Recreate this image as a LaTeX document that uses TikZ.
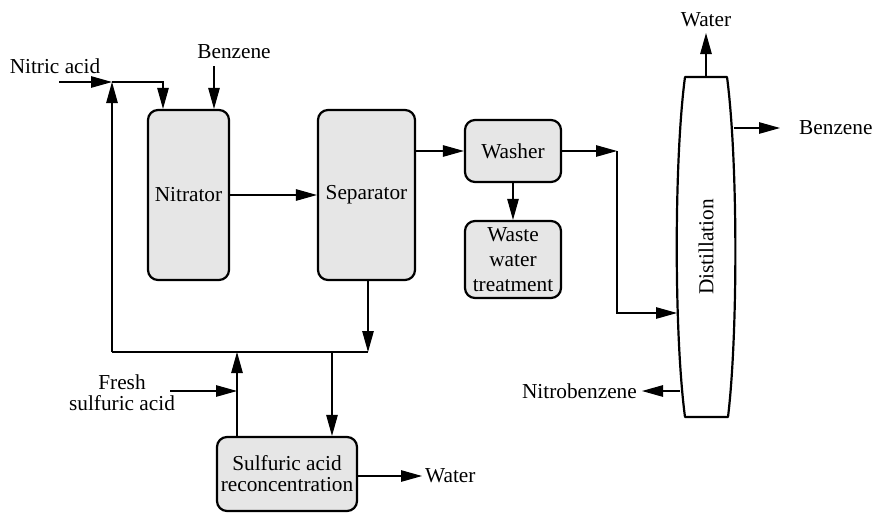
\documentclass[tikz,border=0pt]{standalone}
\usepackage{fontspec}
\setmainfont{Liberation Serif}
\usetikzlibrary{arrows.meta}
\definecolor{boxgray}{RGB}{230,230,230}
\begin{document}
\begin{tikzpicture}[x=1pt,y=-1pt,
  every node/.style={font=\fontsize{21.3}{21}\selectfont, inner sep=0pt},
  unit/.style={draw, line width=2.2pt, fill=boxgray, rounded corners=10pt, align=center},
  flow/.style={line width=1.1pt, -{Triangle[length=21pt,width=11.5pt]}},
  pipe/.style={line width=1.1pt},
  lbl/.style={align=center}]
\useasboundingbox (0,0) rectangle (875,512);

% units
\node[unit, minimum width=81pt, minimum height=170pt] (nitrator) at (188.5,195) {Nitrator};
\node[unit, minimum width=97pt, minimum height=170pt] (separator) at (366.5,195) {Separator};
\node[unit, minimum width=96pt, minimum height=62pt] (washer) at (513,151) {Washer};
\node[unit, minimum width=96pt, minimum height=77pt, font=\fontsize{21.3}{25}\selectfont] (waste) at (513,259.5) {Waste\\water\\treatment};
\node[unit, minimum width=140pt, minimum height=74pt] (sulf) at (287,474) {Sulfuric acid\\reconcentration};

% distillation column
\draw[line width=2.2pt, fill=white, line join=round]
  (685,77) -- (727,77) .. controls (738,160) and (738,334) .. (728,417)
  -- (685,417) .. controls (674,334) and (674,160) .. (685,77) -- cycle;
\node[rotate=90] (dist) at (706,247) {Distillation};

% labels
\node[lbl] (lnitric) at (55,66) {Nitric acid};
\node[lbl] (lbenz1) at (234,52) {Benzene};
\node[lbl] (lfresh) at (122,393) {Fresh\\sulfuric acid};
\node[lbl, anchor=west] (lwater1) at (425,476) {Water};
\node[lbl] (lwater2) at (706,20) {Water};
\node[lbl, anchor=west] (lbenz2) at (799,128) {Benzene};
\node[lbl, anchor=east] (lnitro) at (637,391) {Nitrobenzene};

% coordinates
\coordinate (na) at (59,82);
\coordinate (j1) at (112,82);
\coordinate (bz) at (214,66);
\coordinate (j2) at (112,352);
\coordinate (j3) at (368,352);
\coordinate (j4) at (237,352);
\coordinate (j5) at (332,352);
\coordinate (fs) at (170,391);
\coordinate (w1) at (422,476);
\coordinate (j6) at (617,151);
\coordinate (j7) at (617,313);
\coordinate (colin) at (677,313);
\coordinate (coltop) at (706,77);
\coordinate (w2) at (706,33);
\coordinate (colr) at (734,128);
\coordinate (b2) at (780,128);
\coordinate (coll) at (680,391);
\coordinate (nb) at (642,391);

% connectors
\draw[flow] (na) -- (j1);
\draw[flow] (j1) -| ([xshift=-25.5pt]nitrator.north);
\draw[flow] (bz) -- (bz |- nitrator.north);
\draw[flow] (j2) -- (j1);
\draw[pipe] (j2) -- (j3);
\draw[flow] (separator.south -| j3) -- (j3);
\draw[flow] (sulf.north -| j4) -- (j4);
\draw[flow] (fs) -- (fs -| j4);
\draw[flow] (j5) -- (sulf.north -| j5);
\draw[flow] (sulf.east |- w1) -- (w1);
\draw[flow] (nitrator.east) -- (separator.west);
\draw[flow] (separator.east |- washer.west) -- (washer.west);
\draw[flow] (washer.east) -- (j6);
\draw[flow] (j6) -- (j7) -- (colin);
\draw[flow] (washer.south) -- (waste.north);
\draw[flow] (coltop) -- (w2);
\draw[flow] (colr) -- (b2);
\draw[flow] (coll) -- (nb);
\end{tikzpicture}
\end{document}
